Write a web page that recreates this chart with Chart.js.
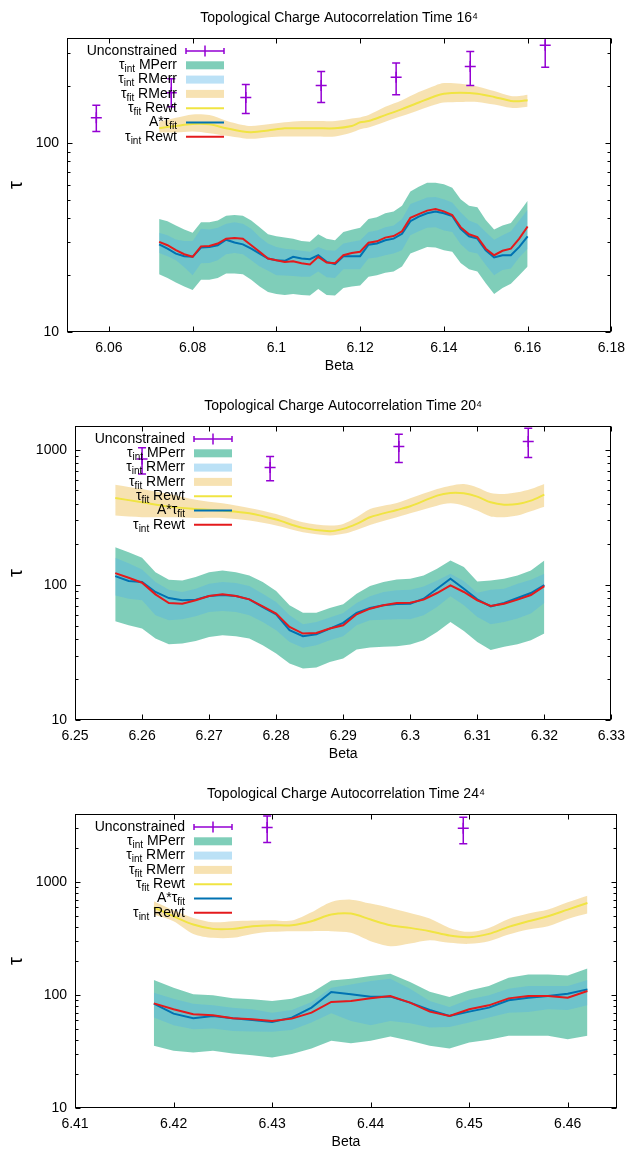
<!DOCTYPE html>
<html>
<head>
<meta charset="utf-8">
<script src="https://cdn.jsdelivr.net/npm/chart.js@4.4.0/dist/chart.umd.min.js"></script>
<style>
  html, body { margin: 0; padding: 0; background: #fff; overflow: hidden; }
  canvas { position: absolute; left: 0; }
</style>
</head>
<body>
<canvas id="c16" width="633" height="375" style="top:0px"></canvas>
<canvas id="c20" width="633" height="375" style="top:388px"></canvas>
<canvas id="c24" width="633" height="375" style="top:776px"></canvas>
<script>
// ---------- 16^4 ----------
const beta16 = [6.072, 6.074, 6.076, 6.078, 6.080, 6.082, 6.084, 6.086, 6.088, 6.090,
  6.092, 6.094, 6.096, 6.098, 6.100, 6.102, 6.104, 6.106, 6.108, 6.110,
  6.112, 6.114, 6.116, 6.118, 6.120, 6.122, 6.124, 6.126, 6.128, 6.130,
  6.132, 6.134, 6.136, 6.138, 6.140, 6.142, 6.144, 6.146, 6.148, 6.150,
  6.152, 6.154, 6.156, 6.158, 6.160];
const mpHi16 = [39.7, 38.6, 36.6, 34.9, 33.5, 38.1, 38.1, 38.9, 41.3, 41.6, 41.3, 38.9, 35.9, 32.9, 32.1, 31.6, 31.2, 30.3, 30.0, 32.9, 31.2, 30.6, 33.8, 34.8, 35.6, 39.7, 40.5, 42.5, 43.5, 46.6, 55.4, 58.8, 61.7, 61.7, 60.5, 58.1, 50.5, 46.6, 45.7, 39.2, 34.9, 36.6, 37.8, 43.0, 49.5];
const mpLo16 = [20.2, 19.3, 18.3, 17.4, 16.7, 18.9, 18.9, 19.3, 20.4, 20.4, 20.2, 18.9, 17.4, 16.3, 15.9, 15.7, 15.9, 15.7, 15.6, 16.9, 15.7, 15.6, 17.1, 17.4, 17.6, 19.6, 20.0, 20.6, 20.9, 22.2, 26.0, 27.1, 28.2, 28.0, 27.1, 26.6, 23.2, 21.5, 20.9, 18.1, 15.9, 17.1, 18.0, 20.0, 22.2];
const rmHi16 = [33.5, 32.5, 30.9, 30.3, 30.3, 35.2, 34.9, 35.6, 37.4, 38.1, 37.4, 35.2, 31.8, 29.4, 28.2, 27.6, 27.3, 26.9, 26.6, 28.2, 27.1, 26.9, 29.4, 30.0, 30.6, 33.8, 34.5, 35.9, 36.6, 39.7, 47.6, 49.5, 51.5, 51.9, 50.5, 48.5, 43.0, 38.9, 37.4, 33.8, 30.8, 32.5, 34.1, 38.9, 44.4];
const rmLo16 = [26.2, 25.2, 24.0, 22.0, 20.0, 23.1, 23.2, 24.0, 25.8, 26.2, 25.8, 24.0, 22.2, 21.1, 20.0, 19.9, 19.8, 19.6, 19.6, 20.9, 19.5, 19.3, 21.5, 21.5, 21.5, 24.5, 24.8, 25.5, 26.0, 27.1, 32.5, 34.1, 35.6, 35.9, 34.5, 33.8, 29.1, 26.6, 26.0, 22.6, 20.0, 21.3, 21.7, 24.8, 27.6];
const aFit16 = [29.1, 27.6, 26.0, 25.2, 25.0, 28.0, 28.2, 28.8, 30.8, 29.8, 29.1, 27.6, 26.0, 24.5, 24.0, 23.8, 25.0, 24.5, 24.3, 25.5, 23.5, 22.9, 25.2, 25.2, 25.2, 29.0, 29.4, 30.6, 31.2, 33.1, 38.6, 40.8, 42.5, 43.4, 42.5, 41.1, 35.2, 32.1, 31.2, 27.1, 24.8, 25.5, 25.5, 28.2, 32.1];
const intRewt16 = [30.0, 28.8, 27.1, 25.8, 25.0, 28.4, 28.5, 29.4, 31.2, 31.4, 31.2, 28.8, 26.6, 24.5, 24.0, 23.5, 23.7, 23.1, 22.8, 25.0, 23.3, 23.1, 25.5, 26.2, 26.6, 29.7, 30.2, 31.6, 32.2, 34.1, 40.2, 42.1, 43.9, 44.8, 43.5, 41.6, 35.9, 32.9, 31.8, 27.6, 25.5, 26.9, 27.6, 31.2, 36.2];
const fitX16 = [6.072, 6.076, 6.080, 6.084, 6.088, 6.092, 6.094, 6.098, 6.102, 6.106, 6.110, 6.114, 6.118, 6.120, 6.122, 6.126, 6.130, 6.134, 6.138, 6.140, 6.144, 6.148, 6.152, 6.156, 6.158, 6.160];
const fitRewt16 = [119.8, 123.2, 126.2, 125.7, 119.8, 115.1, 114.2, 116.5, 119.8, 119.8, 119.8, 119.8, 123.2, 128.8, 130.9, 140.7, 151.3, 163.9, 177.6, 182.7, 184.9, 182.7, 175.5, 167.2, 166.6, 168.6];
const fitHi16 = [129.8, 136.2, 141.8, 140.7, 131.4, 124.7, 123.2, 125.7, 128.8, 130.9, 130.9, 130.9, 135.1, 136.8, 140.7, 155.6, 168.6, 186.4, 202.0, 207.8, 206.1, 199.6, 188.7, 177.6, 177.6, 180.5];
const fitLo16 = [113.7, 113.7, 115.1, 112.8, 109.2, 106.2, 105.3, 107.5, 108.4, 108.4, 108.4, 108.4, 113.7, 118.4, 120.8, 129.8, 139.0, 149.4, 160.0, 163.9, 165.2, 165.2, 160.0, 153.7, 153.7, 155.6];
const uncX16 = [6.057, 6.0749, 6.0927, 6.1107, 6.1286, 6.1463, 6.1642];
const uncY16 = [136.2, 184.9, 174.1, 202.0, 223.4, 254.0, 329.9];
const uncLo16 = [115.1, 155.6, 143.6, 163.9, 180.5, 202.0, 252.0];
const uncHi16 = [158.7, 218.9, 204.4, 239.2, 265.5, 305.6, 430.0];
const xTicks16 = [6.06, 6.08, 6.1, 6.12, 6.14, 6.16, 6.18];
const yTicks16 = [10, 20, 30, 40, 50, 60, 70, 80, 90, 100, 200, 300];

// ---------- 20^4 ----------
const beta20 = [6.256, 6.258, 6.260, 6.262, 6.264, 6.266, 6.268, 6.270, 6.272, 6.274,
  6.276, 6.278, 6.280, 6.282, 6.284, 6.286, 6.288, 6.290, 6.292, 6.294,
  6.296, 6.298, 6.300, 6.302, 6.304, 6.306, 6.308, 6.310, 6.312, 6.314,
  6.316, 6.318, 6.320];
const mpHi20 = [190.2, 174.7, 158.7, 124.3, 109.2, 108.0, 114.2, 124.3, 127.9, 124.3, 117.5, 105.0, 90.1, 70.6, 62.3, 62.3, 67.5, 71.8, 86.1, 98.0, 105.0, 109.8, 111.1, 117.5, 131.6, 151.6, 135.4, 106.1, 108.0, 111.1, 117.5, 127.9, 151.6];
const mpLo20 = [53.8, 50.2, 47.5, 40.1, 36.4, 36.8, 38.5, 41.2, 42.4, 41.7, 40.1, 35.8, 31.0, 26.2, 24.1, 24.5, 26.9, 28.5, 33.2, 34.4, 34.8, 35.2, 36.2, 38.9, 44.9, 53.2, 45.6, 37.8, 32.9, 34.8, 36.4, 38.9, 43.6];
const rmHi20 = [158.7, 144.9, 130.1, 105.0, 92.1, 88.6, 93.7, 102.0, 105.0, 103.2, 98.0, 86.1, 74.7, 59.6, 51.1, 53.2, 57.3, 62.0, 73.4, 82.3, 88.6, 91.1, 92.1, 97.5, 108.0, 120.9, 106.7, 87.5, 92.1, 93.7, 102.0, 109.2, 120.9];
const rmLo20 = [83.6, 79.1, 76.9, 59.6, 54.7, 55.7, 58.6, 63.0, 64.1, 63.0, 59.6, 53.2, 46.2, 37.8, 34.2, 35.8, 38.9, 41.7, 50.2, 54.7, 55.3, 55.7, 55.7, 59.6, 68.6, 82.3, 70.6, 57.9, 51.1, 53.2, 56.3, 61.3, 73.4];
const aFit20 = [116.2, 106.8, 105.0, 88.6, 79.9, 76.9, 77.8, 82.7, 84.2, 82.7, 78.2, 68.6, 60.6, 46.2, 41.7, 43.1, 47.5, 52.3, 62.0, 67.5, 70.6, 72.2, 72.6, 79.0, 93.7, 111.1, 93.7, 78.2, 69.4, 73.4, 79.9, 87.1, 99.8];
const intRewt20 = [122.3, 112.9, 103.8, 85.1, 73.4, 72.6, 76.9, 82.7, 85.1, 82.7, 78.2, 69.4, 61.3, 48.8, 43.6, 44.1, 47.5, 50.2, 60.6, 66.7, 70.6, 73.4, 73.8, 77.8, 87.1, 99.2, 88.6, 76.9, 69.8, 72.6, 77.8, 84.2, 98.0];
const fitX20 = [6.256, 6.260, 6.264, 6.268, 6.272, 6.276, 6.280, 6.284, 6.288, 6.290, 6.292, 6.294, 6.298, 6.300, 6.304, 6.306, 6.308, 6.310, 6.312, 6.314, 6.316, 6.318, 6.320];
const fitRewt20 = [440, 408.6, 379.6, 364.9, 354.7, 338.9, 304.4, 264.2, 249.6, 259.7, 282.8, 316.7, 358.7, 381.8, 457.8, 479, 476, 450, 408.6, 392.7, 397.2, 420.4, 465.6];
const fitHi20 = [552, 512, 471, 427.6, 401.8, 371.1, 335.1, 290.9, 274.9, 282.8, 316.7, 364.9, 404, 437.4, 512, 542.5, 558, 527, 479, 471, 484, 512, 558];
const fitLo20 = [325.8, 316.7, 316.7, 313.1, 313.1, 299.2, 274.9, 245.4, 232.0, 238.6, 255.3, 278.0, 316.7, 338.9, 386.1, 401.8, 386.1, 354.7, 320.3, 316.7, 325.8, 350.7, 379.6];
const uncX20 = [6.26, 6.2791, 6.2983, 6.3176];
const uncY20 = [853, 741, 1058, 1152];
const uncLo20 = [661, 590, 806, 878];
const uncHi20 = [1035, 893, 1305, 1445];
const xTicks20 = [6.25, 6.26, 6.27, 6.28, 6.29, 6.3, 6.31, 6.32, 6.33];
const yTicks20 = [10, 20, 30, 40, 50, 60, 70, 80, 90, 100, 200, 300, 400, 500, 600, 700, 800, 900, 1000];

// ---------- 24^4 ----------
const beta24 = [6.418, 6.420, 6.422, 6.424, 6.426, 6.428, 6.430, 6.432, 6.434, 6.436,
  6.438, 6.440, 6.442, 6.444, 6.446, 6.448, 6.450, 6.452, 6.454, 6.456,
  6.458, 6.460, 6.462];
const mpHi24 = [135.6, 116.1, 101.4, 99.3, 93.4, 91.6, 88.5, 92.8, 104.8, 134.7, 139.3, 147.1, 154.2, 130.2, 107.0, 96.0, 109.9, 120.1, 142.2, 152.2, 152.2, 149.1, 171.9];
const mpLo24 = [35.5, 32.1, 31.0, 32.1, 30.4, 29.3, 28.0, 30.0, 33.6, 39.3, 37.5, 39.3, 42.9, 39.3, 35.5, 33.6, 38.0, 40.1, 43.5, 43.5, 43.5, 40.6, 43.5];
const rmHi24 = [104.8, 92.8, 83.9, 81.0, 77.3, 74.7, 69.8, 73.7, 86.8, 116.1, 124.2, 132.9, 139.3, 113.7, 88.5, 78.4, 91.6, 99.3, 113.7, 120.1, 120.1, 120.1, 135.6];
const rmLo24 = [63.1, 54.0, 49.8, 50.5, 48.1, 47.5, 47.2, 49.1, 57.0, 68.9, 58.9, 54.0, 58.9, 56.2, 51.5, 52.2, 57.0, 63.1, 69.8, 70.8, 74.7, 73.7, 81.0];
const aFit24 = [83.9, 68.4, 62.2, 65.2, 62.2, 60.2, 57.8, 63.1, 77.3, 106.3, 101.4, 96.7, 96.7, 85.6, 73.7, 65.2, 71.3, 77.3, 89.7, 94.7, 98.0, 102.7, 112.2];
const intRewt24 = [84.4, 74.7, 67.5, 66.1, 62.2, 61.0, 58.9, 61.8, 69.8, 86.8, 88.5, 93.4, 98.0, 85.6, 71.3, 65.2, 74.7, 81.0, 93.4, 98.0, 98.0, 94.7, 108.4];
const fitRewt24 = [597.6, 497.7, 420.3, 384.9, 384.9, 406.3, 414.7, 414.7, 449.8, 515.0, 525.5, 465.3, 414.7, 392.8, 367.1, 336.1, 324.9, 347.6, 400.9, 449.8, 497.7, 570.0, 652.8];
const fitHi24 = [675.3, 562.3, 481.2, 440.8, 449.8, 456.0, 459.0, 456.0, 540.0, 666.2, 698.6, 644.0, 589.6, 532.7, 474.8, 392.8, 362.2, 392.8, 471.6, 525.5, 570.0, 661.8, 757.8];
const fitLo24 = [515.0, 449.8, 347.6, 320.5, 320.5, 347.6, 362.2, 367.1, 367.1, 367.1, 354.8, 299.5, 270.6, 285.6, 305.7, 289.5, 283.7, 299.5, 343.0, 379.7, 406.3, 471.6, 525.5];
const uncX24 = [6.4295, 6.4494];
const uncY24 = [3036, 2995];
const uncLo24 = [2239, 2179];
const uncHi24 = [3848, 3745];
const xTicks24 = [6.41, 6.42, 6.43, 6.44, 6.45, 6.46];
const yTicks24 = [10, 20, 30, 40, 50, 60, 70, 80, 90, 100, 200, 300, 400, 500, 600, 700, 800, 900, 1000, 2000, 3000, 4000];

const yLabels = [10, 100, 1000];

// legend text: [text, isSubscript]
const keyLabels = [
  [['Unconstrained']],
  [['τ'], ['int', 1], [' MPerr']],
  [['τ'], ['int', 1], [' RMerr']],
  [['τ'], ['fit', 1], [' RMerr']],
  [['τ'], ['fit', 1], [' Rewt']],
  [['A*τ'], ['fit', 1]],
  [['τ'], ['int', 1], [' Rewt']]
];

const FONT = '"Liberation Sans", Arial, Helvetica, sans-serif';
const C_MP = 'rgba(0,158,115,0.5)';
const C_RM = 'rgba(86,180,233,0.4)';
const C_FITBAND = 'rgba(230,159,0,0.3)';
const C_FIT = '#f0e442';
const C_AFIT = '#0072b2';
const C_REWT = '#e41a1c';
const C_UNC = 'rgb(148,0,211)';

Chart.defaults.font.family = FONT;
Chart.defaults.font.size = 14;
Chart.defaults.color = '#000';

function pts(xs, ys) {
  return xs.map((x, i) => ({ x: x, y: ys[i] }));
}

function bandTop(xs, ys, color, order, tension) {
  return { data: pts(xs, ys), fill: '+1', backgroundColor: color, borderColor: 'rgba(0,0,0,0)',
    borderWidth: 0, pointRadius: 0, order: order, tension: tension || 0 };
}
function bandBottom(xs, ys, order, tension) {
  return { data: pts(xs, ys), fill: false, borderColor: 'rgba(0,0,0,0)',
    borderWidth: 0, pointRadius: 0, order: order, tension: tension || 0 };
}
function curve(xs, ys, color, order, tension) {
  return { data: pts(xs, ys), fill: false, borderColor: color, borderWidth: 2,
    pointRadius: 0, order: order, tension: tension || 0 };
}

// gnuplot-ish frame, inward ticks, error bars and key
const gnuplotDecor = {
  id: 'gnuplotDecor',
  afterDatasetsDraw(chart) {
    const { ctx, chartArea: a, scales: { x, y } } = chart;

    // error bars
    ctx.save();
    ctx.beginPath();
    ctx.rect(a.left, a.top, a.right - a.left, a.bottom - a.top);
    ctx.clip();
    chart.data.datasets.forEach((ds, i) => {
      if (!ds.errLo) return;
      const meta = chart.getDatasetMeta(i);
      ctx.strokeStyle = C_UNC;
      ctx.lineWidth = 1.5;
      meta.data.forEach((pt, j) => {
        const top = y.getPixelForValue(ds.errHi[j]);
        const bot = y.getPixelForValue(ds.errLo[j]);
        ctx.beginPath();
        ctx.moveTo(pt.x, top); ctx.lineTo(pt.x, bot);
        ctx.moveTo(pt.x - 4, top); ctx.lineTo(pt.x + 4, top);
        ctx.moveTo(pt.x - 4, bot); ctx.lineTo(pt.x + 4, bot);
        ctx.stroke();
      });
    });
    ctx.restore();

    // frame + ticks
    ctx.save();
    ctx.strokeStyle = '#000';
    ctx.lineWidth = 1;
    const L = Math.round(a.left) + 0.5, R = Math.round(a.right) - 0.5;
    const T = Math.round(a.top) + 0.5, B = Math.round(a.bottom) - 0.5;
    ctx.strokeRect(L, T, R - L, B - T);
    ctx.beginPath();
    x.ticks.forEach(t => {
      const px = Math.round(x.getPixelForValue(t.value)) + 0.5;
      ctx.moveTo(px, B); ctx.lineTo(px, B - 5);
      ctx.moveTo(px, T); ctx.lineTo(px, T + 5);
    });
    y.ticks.forEach(t => {
      const py = Math.round(y.getPixelForValue(t.value)) + 0.5;
      const len = yLabels.includes(t.value) ? 5 : 3;
      ctx.moveTo(L, py); ctx.lineTo(L + len, py);
      ctx.moveTo(R, py); ctx.lineTo(R - len, py);
    });
    ctx.stroke();
    ctx.restore();

    // key
    ctx.save();
    const textRight = a.left + 110, sx1 = a.left + 119, sx2 = a.left + 157;
    keyLabels.forEach((parts, i) => {
      const ry = a.top + 13 + i * 14.3;
      const widths = parts.map(p => {
        ctx.font = (p[1] ? '10px ' : '14px ') + FONT;
        return ctx.measureText(p[0]).width;
      });
      let tx = textRight - widths.reduce((s, w) => s + w, 0);
      ctx.fillStyle = '#000';
      ctx.textBaseline = 'middle';
      ctx.textAlign = 'left';
      parts.forEach((p, k) => {
        ctx.font = (p[1] ? '10px ' : '14px ') + FONT;
        ctx.fillText(p[0], tx, p[1] ? ry + 4 : ry);
        tx += widths[k];
      });
      const kind = ['err', 'band', 'band', 'band', 'line', 'line', 'line'][i];
      const color = [C_UNC, C_MP, C_RM, C_FITBAND, C_FIT, C_AFIT, C_REWT][i];
      if (kind === 'band') {
        ctx.fillStyle = color;
        ctx.fillRect(sx1, ry - 4, sx2 - sx1, 8);
      } else if (kind === 'line') {
        ctx.strokeStyle = color;
        ctx.lineWidth = 2;
        ctx.beginPath(); ctx.moveTo(sx1, ry); ctx.lineTo(sx2, ry); ctx.stroke();
      } else {
        const cx = (sx1 + sx2) / 2;
        ctx.strokeStyle = color;
        ctx.lineWidth = 1.5;
        ctx.beginPath();
        ctx.moveTo(sx1, ry); ctx.lineTo(sx2, ry);
        ctx.moveTo(sx1, ry - 3); ctx.lineTo(sx1, ry + 3);
        ctx.moveTo(sx2, ry - 3); ctx.lineTo(sx2, ry + 3);
        ctx.moveTo(cx, ry - 5.5); ctx.lineTo(cx, ry + 5.5);
        ctx.stroke();
      }
    });
    ctx.restore();
  }
};

function makePanel(p) {
  const datasets = [
    bandTop(p.beta, p.mpHi, C_MP, 9), bandBottom(p.beta, p.mpLo, 9),
    bandTop(p.beta, p.rmHi, C_RM, 8), bandBottom(p.beta, p.rmLo, 8),
    bandTop(p.fitX, p.fitHi, C_FITBAND, 7, 0.3), bandBottom(p.fitX, p.fitLo, 7, 0.3),
    curve(p.fitX, p.fitRewt, C_FIT, 6, 0.3),
    curve(p.beta, p.aFit, C_AFIT, 5),
    curve(p.beta, p.intRewt, C_REWT, 4),
    {
      data: pts(p.uncX, p.uncY), errLo: p.uncLo, errHi: p.uncHi,
      showLine: false, fill: false, pointStyle: 'cross', pointRadius: 5.5,
      pointBorderWidth: 1.5, borderColor: C_UNC, pointBorderColor: C_UNC, order: 3
    }
  ];

  new Chart(document.getElementById(p.id), {
    type: 'line',
    data: { datasets: datasets },
    plugins: [gnuplotDecor],
    options: {
      responsive: false,
      animation: false,
      devicePixelRatio: 1,
      events: [],
      layout: { padding: { left: 0, right: 16, top: 0, bottom: 0 } },
      plugins: {
        legend: { display: false },
        tooltip: { enabled: false },
        title: {
          display: true, text: p.title, fullSize: false, color: '#000',
          font: { size: 14, weight: 'normal' }, padding: { top: 9.6, bottom: 11.6 }
        }
      },
      scales: {
        x: {
          type: 'linear', min: p.xMin, max: p.xMax,
          grid: { display: false, drawTicks: false },
          border: { display: false },
          ticks: { autoSkip: false, maxRotation: 0, padding: 8,
            callback: v => String(+(+v).toFixed(3)) },
          afterBuildTicks: s => { s.ticks = p.xTicks.map(v => ({ value: v })); },
          afterFit: s => { s.height = 43; },
          title: { display: true, text: 'Beta', font: { size: 14 }, padding: { top: 0, bottom: 0 } }
        },
        y: {
          type: 'logarithmic', min: 10, max: p.yMax,
          grid: { display: false, drawTicks: false },
          border: { display: false },
          ticks: { autoSkip: false, padding: 8,
            callback: v => (yLabels.includes(v) ? String(v) : '') },
          afterBuildTicks: s => { s.ticks = p.yTicks.map(v => ({ value: v })); },
          afterFit: s => { s.width = p.left; },
          title: { display: true, text: 'τ', font: { size: 20 }, padding: { top: 4, bottom: 0 } }
        }
      }
    }
  });
}

makePanel({
  id: 'c16', title: 'Topological Charge Autocorrelation Time 16⁴', left: 67,
  xMin: 6.05, xMax: 6.18, yMax: 360, xTicks: xTicks16, yTicks: yTicks16,
  beta: beta16, mpHi: mpHi16, mpLo: mpLo16, rmHi: rmHi16, rmLo: rmLo16,
  aFit: aFit16, intRewt: intRewt16, fitX: fitX16, fitRewt: fitRewt16, fitHi: fitHi16, fitLo: fitLo16,
  uncX: uncX16, uncY: uncY16, uncLo: uncLo16, uncHi: uncHi16
});
makePanel({
  id: 'c20', title: 'Topological Charge Autocorrelation Time 20⁴', left: 75,
  xMin: 6.25, xMax: 6.33, yMax: 1500, xTicks: xTicks20, yTicks: yTicks20,
  beta: beta20, mpHi: mpHi20, mpLo: mpLo20, rmHi: rmHi20, rmLo: rmLo20,
  aFit: aFit20, intRewt: intRewt20, fitX: fitX20, fitRewt: fitRewt20, fitHi: fitHi20, fitLo: fitLo20,
  uncX: uncX20, uncY: uncY20, uncLo: uncLo20, uncHi: uncHi20
});
makePanel({
  id: 'c24', title: 'Topological Charge Autocorrelation Time 24⁴', left: 75,
  xMin: 6.41, xMax: 6.465, yMax: 4000, xTicks: xTicks24, yTicks: yTicks24,
  beta: beta24, mpHi: mpHi24, mpLo: mpLo24, rmHi: rmHi24, rmLo: rmLo24,
  aFit: aFit24, intRewt: intRewt24, fitX: beta24, fitRewt: fitRewt24, fitHi: fitHi24, fitLo: fitLo24,
  uncX: uncX24, uncY: uncY24, uncLo: uncLo24, uncHi: uncHi24
});
</script>
</body>
</html>
